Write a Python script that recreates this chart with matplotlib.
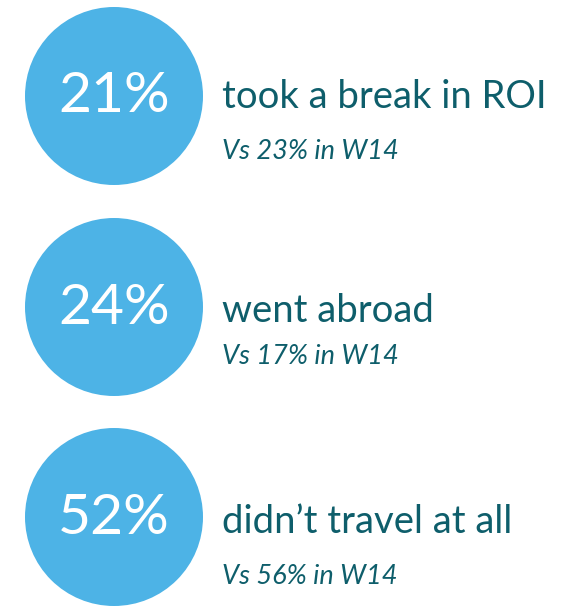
import matplotlib.pyplot as plt
from matplotlib.patches import Circle

# Data
shares = ["21%", "24%", "52%"]
labels = ["took a break in ROI", "went abroad", "didn\u2019t travel at all"]
previous = ["Vs 23% in W14", "Vs 17% in W14", "Vs 56% in W14"]

BLUE = "#4DB3E6"
TEAL = "#0E5E6B"

# layout in pixel units (y down)
circle_x = 114
circle_y = [96, 307, 517]
radius = 89
text_x = 222
label_base = [108, 322, 533]
sub_base = [159, 364, 584]

fig = plt.figure(figsize=(5.67, 6.06), dpi=100)
ax = fig.add_axes([0, 0, 1, 1])
ax.set_xlim(0, 567)
ax.set_ylim(606, 0)
ax.set_aspect("equal")
ax.axis("off")

for i in range(len(shares)):
    ax.add_patch(Circle((circle_x, circle_y[i]), radius, color=BLUE, lw=0))
    ax.text(circle_x, circle_y[i] + 1, shares[i], color="white", ha="center", va="center",
            fontsize=41, family=["Lato", "DejaVu Sans"])
    ax.text(text_x, label_base[i], labels[i], color=TEAL, ha="left", va="baseline",
            fontsize=27.5, family=["Lato", "DejaVu Sans"])
    ax.text(text_x, sub_base[i], previous[i], color=TEAL, ha="left", va="baseline",
            fontsize=19.5, style="italic", family=["Lato", "DejaVu Sans"])

fig.savefig("out.png", dpi=100)
plt.close(fig)
